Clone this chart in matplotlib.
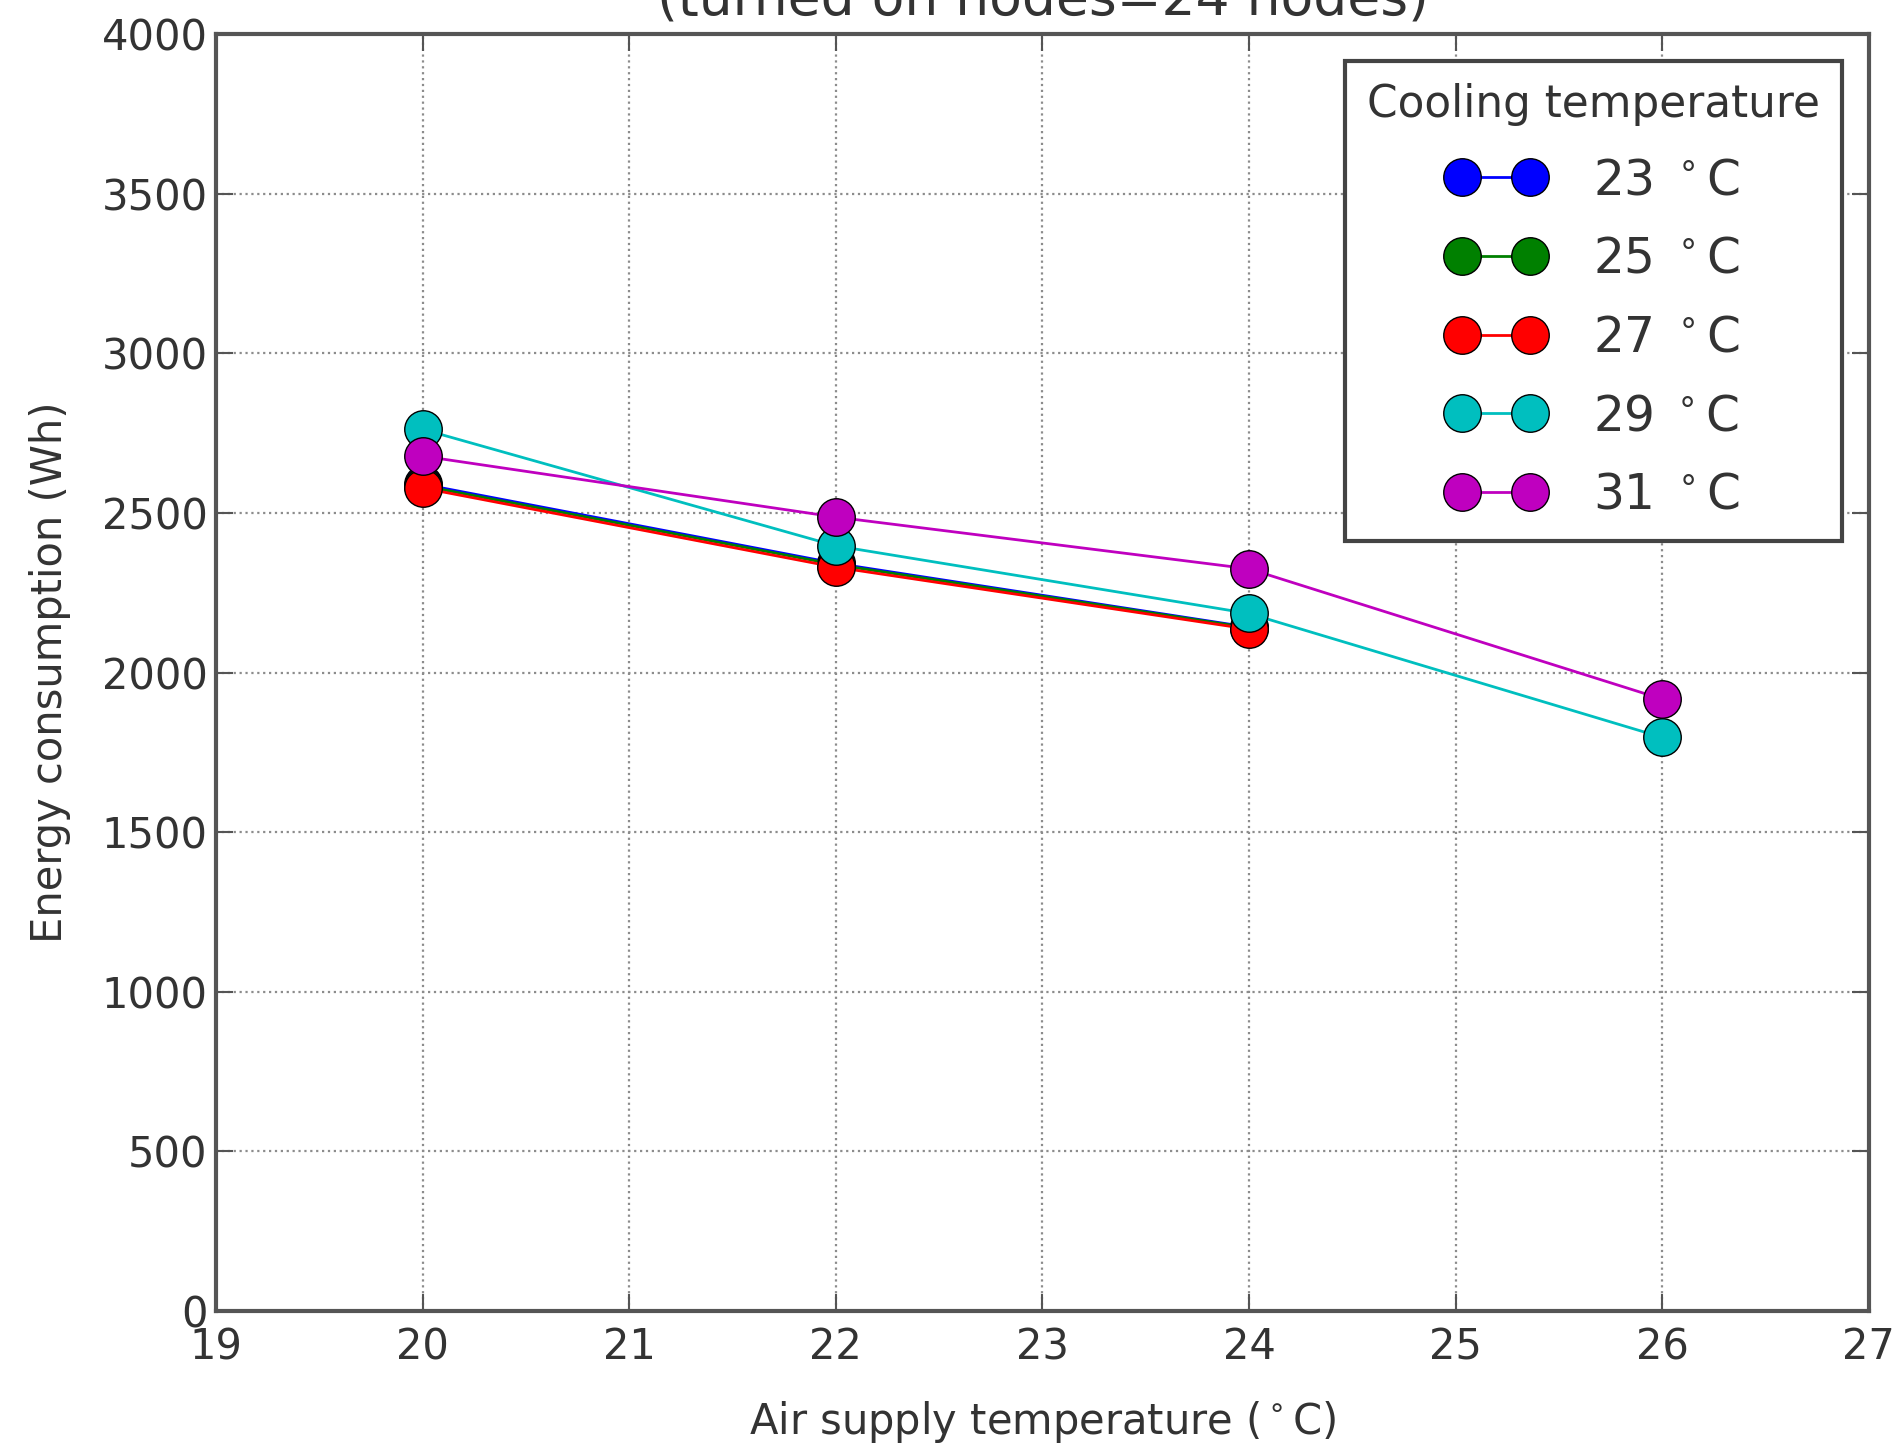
import matplotlib
matplotlib.use("Agg")
import matplotlib.pyplot as plt

# Energy consumption (Wh) vs. air supply temperature, one series per cooling temperature
air_supply = [20, 22, 24, 26]
cooling_temps = [23, 25, 27, 29, 31]
energy_23 = [2590, 2342, 2142]
energy_25 = [2585, 2338, 2140]
energy_27 = [2578, 2330, 2136]
energy_29 = [2762, 2397, 2185, 1797]
energy_31 = [2678, 2487, 2325, 1917]
series = [energy_23, energy_25, energy_27, energy_29, energy_31]
colors = [(0, 0, 1), (0, 0.5, 0), (1, 0, 0), (0, 0.75, 0.75), (0.75, 0, 0.75)]

x_ticks = [19, 20, 21, 22, 23, 24, 25, 26, 27]
y_ticks = [0, 500, 1000, 1500, 2000, 2500, 3000, 3500, 4000]

fig = plt.figure(figsize=(19.03, 14.49), dpi=100)
ax = fig.add_axes([0.1135, 0.0952, 0.8685, 0.8813])

for temp, vals, col in zip(cooling_temps, series, colors):
    ax.plot(air_supply[:len(vals)], vals, color=col, marker='o', markersize=27,
            markeredgecolor='black', markeredgewidth=1.0, linewidth=2,
            label='%d $^\\circ$C' % temp)

ax.set_xlim(19, 27)
ax.set_ylim(0, 4000)
ax.set_xticks(x_ticks)
ax.set_yticks(y_ticks)
ax.grid(True, color='0.55', linestyle=':', linewidth=1.6)

for sp in ax.spines.values():
    sp.set_color('#555555')
    sp.set_linewidth(3)

ax.tick_params(direction='in', length=12, width=1.5, color='#555555',
               top=True, right=True, labelsize=30, labelcolor='#333333')
ax.tick_params(axis='x', pad=11)
ax.tick_params(axis='y', pad=6)

ax.set_xlabel('Air supply temperature ($^\\circ$C)', fontsize=30, color='#333333', labelpad=22)
ax.set_ylabel('Energy consumption (Wh)', fontsize=30, color='#333333', labelpad=22)

fig.text(0.548, 0.990, '(turned on nodes=24 nodes)', fontsize=38.5, color='#333333',
         ha='center', va='baseline')

leg = ax.legend(title='Cooling temperature', loc='upper right', numpoints=2,
                fontsize=35, title_fontsize=31.5, handlelength=2.0, handletextpad=1.0,
                labelspacing=0.63, borderaxespad=0.55, borderpad=0.45,
                fancybox=False, framealpha=1)
leg.get_frame().set_edgecolor('#444444')
leg.get_frame().set_linewidth(3)
for t in leg.get_texts():
    t.set_color('#333333')
leg.get_title().set_color('#333333')

fig.savefig('out.png', dpi=100)
